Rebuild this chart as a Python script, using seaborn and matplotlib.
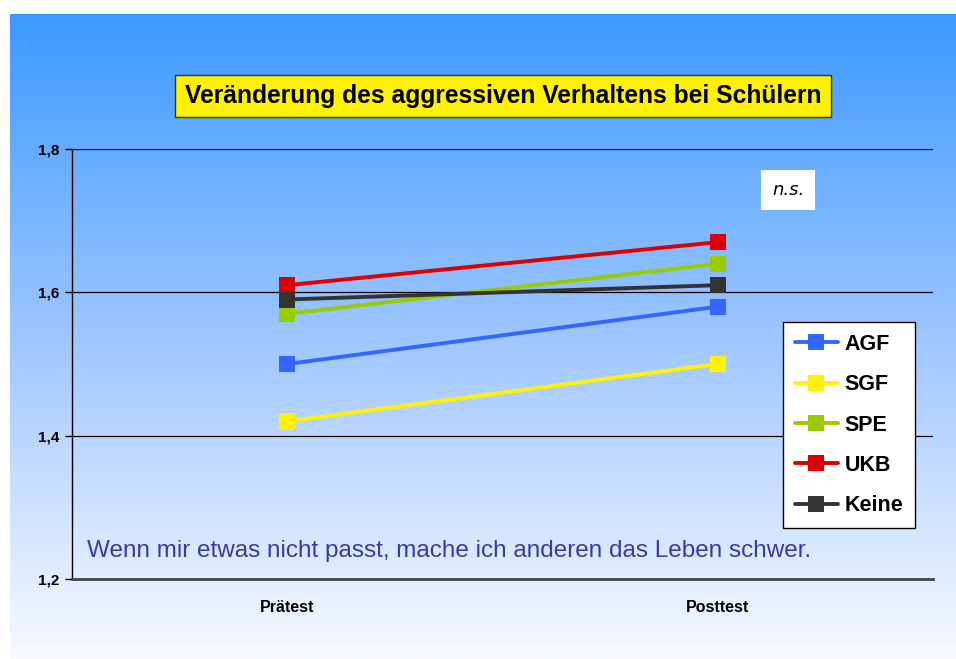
import numpy as np
import pandas as pd
import matplotlib
matplotlib.use("Agg")
import matplotlib.pyplot as plt
from matplotlib.colors import LinearSegmentedColormap
import seaborn as sns

# data
zeitpunkte = ["Prätest", "Posttest"]
gruppen = ["AGF", "SGF", "SPE", "UKB", "Keine"]
agf = [1.50, 1.58]
sgf = [1.42, 1.50]
spe = [1.57, 1.64]
ukb = [1.61, 1.67]
keine = [1.59, 1.61]
y_ticks = [1.2, 1.4, 1.6, 1.8]
y_ticklabels = ["1,2", "1,4", "1,6", "1,8"]

farben = ["#3366FF", "#FFF200", "#99CC00", "#DD0000", "#333333"]

werte = [agf, sgf, spe, ukb, keine]
rows = []
for g, w in zip(gruppen, werte):
    for z, v in zip(zeitpunkte, w):
        rows.append({"Zeitpunkt": z, "Gruppe": g, "Wert": v})
df = pd.DataFrame(rows)

sns.set_theme(style="white")
plt.rcParams["font.family"] = ["Liberation Sans", "DejaVu Sans"]
plt.rcParams["text.color"] = "black"
plt.rcParams["xtick.color"] = "black"
plt.rcParams["ytick.color"] = "black"

fig = plt.figure(figsize=(9.56, 6.59), dpi=100)
fig.patch.set_facecolor("white")

# gradient background
bg = fig.add_axes([10 / 956, 0, 946 / 956, 645 / 659])
bg_cmap = LinearSegmentedColormap.from_list("bg", ["#3B9AFF", "#9EC6FF", "#F8FAFF"])
grad = np.linspace(0, 1, 256).reshape(-1, 1)
bg.imshow(grad, aspect="auto", cmap=bg_cmap, extent=[0, 1, 0, 1])
bg.set_axis_off()

ax = fig.add_axes([72 / 956, 80 / 659, 861 / 956, 430 / 659])
ax.patch.set_alpha(0)

sns.lineplot(data=df, x="Zeitpunkt", y="Wert", hue="Gruppe", hue_order=gruppen,
             palette=farben, marker="s", markersize=11, markeredgewidth=0,
             linewidth=2.8, ax=ax, sort=False)

ax.set_xlim(-0.5, 1.5)
ax.set_ylim(1.2, 1.8)
ax.set_yticks(y_ticks)
ax.set_yticklabels(y_ticklabels, fontsize=11, fontweight="bold")
ax.set_xticks([0, 1])
ax.set_xticklabels(zeitpunkte, fontsize=11.5, fontweight="bold")
ax.set_xticks([-0.5, 0.5, 1.5], minor=True)
ax.tick_params(axis="x", which="major", length=0, pad=15)
ax.tick_params(axis="x", which="minor", length=5, width=1, color="black", direction="out")
ax.tick_params(axis="y", length=5, width=1, color="black", direction="out", left=True, pad=4)
ax.set_xlabel("")
ax.set_ylabel("")
ax.grid(axis="y", color="black", linewidth=0.9)
ax.set_axisbelow(True)
for s in ["top", "right"]:
    ax.spines[s].set_visible(False)
ax.spines["left"].set_color("black")
ax.spines["left"].set_linewidth(1)
ax.spines["bottom"].set_color("#444444")
ax.spines["bottom"].set_linewidth(2)

leg = ax.legend(loc="upper left", bbox_to_anchor=((783 - 72) / 861, (579 - 322) / 430),
                frameon=True, fancybox=False, edgecolor="black", facecolor="white",
                framealpha=1, prop={"size": 15.5, "weight": "bold"}, handlelength=2.0,
                handletextpad=0.3, labelspacing=0.9, borderpad=0.55, borderaxespad=0)
leg.get_frame().set_linewidth(1)
for t in leg.get_texts():
    t.set_color("black")

# title box
fig.text(503 / 956, 1 - 96 / 659, "Veränderung des aggressiven Verhaltens bei Schülern",
         ha="center", va="center", fontsize=17.7, fontweight="bold", color="black",
         bbox=dict(boxstyle="square,pad=0.38", facecolor="#FFF200", edgecolor="#333333", linewidth=1))

# n.s. box
fig.text(788 / 956, 1 - 190 / 659, "n.s.", ha="center", va="center", fontsize=13,
         style="italic", family=["DejaVu Sans"], color="black",
         bbox=dict(boxstyle="square,pad=0.6", facecolor="white", edgecolor="none"))

fig.text(87 / 956, 1 - 551 / 659, "Wenn mir etwas nicht passt, mache ich anderen das Leben schwer.",
         ha="left", va="center", fontsize=17.5, color="#3A3AA0")

fig.savefig("out.png", dpi=100)
